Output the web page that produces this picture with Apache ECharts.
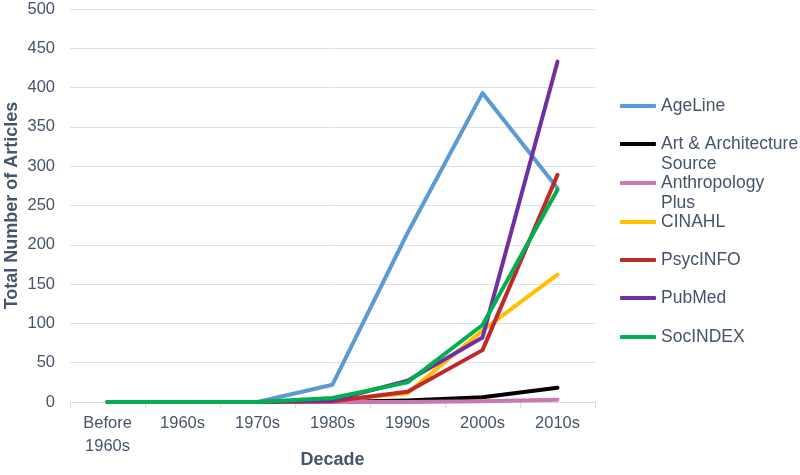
<!DOCTYPE html>
<html><head><meta charset="utf-8">
<script src="https://cdn.jsdelivr.net/npm/echarts@6/dist/echarts.min.js"></script>
<style>html,body{margin:0;padding:0;background:#fff}#c{width:800px;height:475px}</style>
</head><body><div id="c"></div>
<script>
var categories = ['Before\n1960s','1960s','1970s','1980s','1990s','2000s','2010s'];
var seriesNames = ['AgeLine','Art & Architecture Source','Anthropology Plus','CINAHL','PsycINFO','PubMed','SocINDEX'];
var ageLine   = [0,0,0,22,215,393,272];
var artArch   = [0,0,0,0,2,6,18];
var anthro    = [0,0,0,0,0,1,3];
var cinahl    = [0,0,0,2,11,91,162];
var psycInfo  = [0,0,0,1,13,66,289];
var pubMed    = [0,0,0,2,27,82,433];
var socIndex  = [0,0,0,5,25,98,270];
var yTicks = {min:0, max:500, interval:50};

var values = [ageLine, artArch, anthro, cinahl, psycInfo, pubMed, socIndex];
var colors = ['#5B9BD5','#000000','#C878B4','#FFC000','#C0282A','#7030A0','#00B050'];
var legendLabels = ['AgeLine','Art & Architecture\nSource','Anthropology\nPlus','CINAHL','PsycINFO','PubMed','SocINDEX'];
var legendCenters = [106,144,183,222,260,298,337];
var textColor = '#44546A';
var FONT = 'Liberation Sans, Arial, sans-serif';

var legends = seriesNames.map(function(n,i){
  var wrapped = legendLabels[i].indexOf('\n') >= 0;
  return {
    data:[n], orient:'vertical', left:620,
    top: wrapped ? legendCenters[i]-30 : legendCenters[i]-10,
    padding:0, itemWidth:36, itemHeight:4, itemGap:0,
    icon:'roundRect', selectedMode:false,
    formatter: function(){ return wrapped ? ' \n' + legendLabels[i] : legendLabels[i]; },
    textStyle:{color:textColor, fontSize:17.5, fontFamily:FONT, lineHeight:20}
  };
});

var chart = echarts.init(document.getElementById('c'), null, {renderer:'canvas'});
chart.setOption({
  animation:false,
  color: colors,
  textStyle:{fontFamily:FONT},
  legend: legends,
  grid:{left:70, right:205, top:9, bottom:73, containLabel:false, outerBoundsMode:'none'},
  xAxis:{
    type:'category', data:categories, boundaryGap:true,
    name:'Decade', nameLocation:'middle', nameGap:49, nameMoveOverlap:false,
    nameTextStyle:{color:textColor, fontSize:18, fontWeight:'bold', fontFamily:FONT},
    axisLine:{lineStyle:{color:'#D9D9D9', width:1}},
    axisTick:{show:true, length:6, lineStyle:{color:'#D9D9D9'}},
    axisLabel:{color:textColor, fontSize:16.5, margin:10, lineHeight:23, interval:0, fontFamily:FONT}
  },
  yAxis:{
    type:'value', min:yTicks.min, max:yTicks.max, interval:yTicks.interval,
    name:'Total Number of Articles', nameLocation:'middle', nameGap:49, nameMoveOverlap:false,
    nameTextStyle:{color:textColor, fontSize:18, fontWeight:'bold', fontFamily:FONT},
    axisLine:{show:false}, axisTick:{show:false},
    splitLine:{lineStyle:{color:'#DCE1E8', width:1}},
    axisLabel:{color:textColor, fontSize:16.5, margin:15, fontFamily:FONT}
  },
  series: seriesNames.map(function(n,i){
    return {name:n, type:'line', data:values[i], showSymbol:false, symbol:'none',
      lineStyle:{width:4, color:colors[i], cap:'round', join:'round'}, itemStyle:{color:colors[i]}};
  })
});
</script></body></html>
